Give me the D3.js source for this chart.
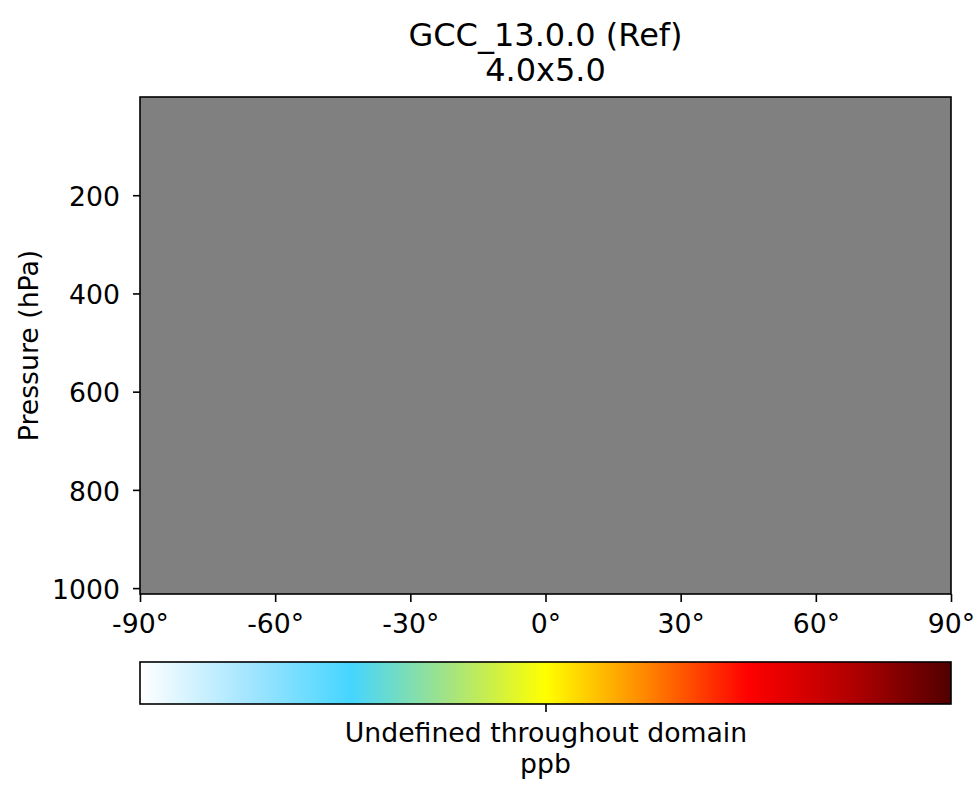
<!DOCTYPE html>
<html>
<head>
<meta charset="utf-8">
<script src="https://cdn.jsdelivr.net/npm/d3@7"></script>
<style>
  html, body { margin: 0; padding: 0; background: #fff; }
  svg { display: block; font-family: "DejaVu Sans", sans-serif; }
</style>
</head>
<body>
<svg id="chart" width="976" height="785"></svg>
<script>
// Zonal-mean panel: latitude vs pressure, field undefined everywhere
const titleLines = ["GCC_13.0.0 (Ref)", "4.0x5.0"];
const latExtent = [-90, 90];
const pressureExtent = [0, 1012];
const latTicks = [-90, -60, -30, 0, 30, 60, 90];
const pressureTicks = [200, 400, 600, 800, 1000];
const undefinedColor = "#808080";
const cbarStops = [0, 0.13, 0.26, 0.38, 0.5, 0.62, 0.75, 0.88, 1];
const cbarColors = ["#ffffff", "#a6e6ff", "#45d5ff", "#a3e383", "#ffff00", "#ff8a00", "#ff0000", "#b00000", "#500000"];
const cbarTickLabels = ["Undefined throughout domain"];
const unitsLabel = "ppb";
const yAxisLabel = "Pressure (hPa)";

const svg = d3.select("#chart");
const plot = { left: 140, right: 951, top: 97, bottom: 594 };
const cbar = { left: 140, right: 951, top: 662, bottom: 704 };

const x = d3.scaleLinear().domain(latExtent).range([plot.left, plot.right]);
const y = d3.scaleLinear().domain(pressureExtent).range([plot.top, plot.bottom]);

// Field area (all cells masked -> NaN colour)
svg.append("rect")
  .attr("x", x(latExtent[0])).attr("y", y(pressureExtent[0]))
  .attr("width", x(latExtent[1]) - x(latExtent[0]))
  .attr("height", y(pressureExtent[1]) - y(pressureExtent[0]))
  .attr("fill", undefinedColor);

const tickFont = "26.7px";

function styleAxis(g) {
  g.select(".domain").remove();
  g.selectAll("line").attr("stroke", "#000").attr("stroke-width", 1.6);
  g.selectAll("text").attr("font-size", tickFont).attr("fill", "#000")
    .attr("font-family", "DejaVu Sans");
}

// X axis
const xAxis = svg.append("g")
  .attr("transform", `translate(0,${plot.bottom})`)
  .call(d3.axisBottom(x).tickValues(latTicks).tickSize(8).tickPadding(12)
    .tickFormat(d => `${d}°`));
styleAxis(xAxis);

// Y axis
const yAxis = svg.append("g")
  .attr("transform", `translate(${plot.left},0)`)
  .call(d3.axisLeft(y).tickValues(pressureTicks).tickSize(7).tickPadding(13)
    .tickFormat(d3.format("d")));
styleAxis(yAxis);
yAxis.selectAll("text").attr("dy", "0.38em");

// Frame
svg.append("rect")
  .attr("x", plot.left).attr("y", plot.top)
  .attr("width", plot.right - plot.left).attr("height", plot.bottom - plot.top)
  .attr("fill", "none").attr("stroke", "#000").attr("stroke-width", 1.6);

// Y label
svg.append("text")
  .attr("transform", `translate(38,${(plot.top + plot.bottom) / 2}) rotate(-90)`)
  .attr("text-anchor", "middle")
  .attr("font-size", tickFont)
  .text(yAxisLabel);

// Title (two lines)
svg.append("text")
  .attr("x", (plot.left + plot.right) / 2).attr("y", 46)
  .attr("text-anchor", "middle").attr("font-size", "32px")
  .text(titleLines[0]);
svg.append("text")
  .attr("x", (plot.left + plot.right) / 2).attr("y", 81)
  .attr("text-anchor", "middle").attr("font-size", "32px")
  .text(titleLines[1]);

// Colour bar
const defs = svg.append("defs");
const grad = defs.append("linearGradient").attr("id", "cbarGrad")
  .attr("x1", "0%").attr("x2", "100%").attr("y1", "0%").attr("y2", "0%");
grad.selectAll("stop").data(cbarStops).join("stop")
  .attr("offset", d => `${d * 100}%`)
  .attr("stop-color", (d, i) => cbarColors[i]);

svg.append("rect")
  .attr("x", cbar.left).attr("y", cbar.top)
  .attr("width", cbar.right - cbar.left).attr("height", cbar.bottom - cbar.top)
  .attr("fill", "url(#cbarGrad)")
  .attr("stroke", "#000").attr("stroke-width", 1.6);

const cx = d3.scalePoint().domain(cbarTickLabels).range([cbar.left, cbar.right]).padding(0.5);
const cAxis = svg.append("g")
  .attr("transform", `translate(0,${cbar.bottom})`)
  .call(d3.axisBottom(cx).tickSize(8).tickPadding(11));
styleAxis(cAxis);

svg.append("text")
  .attr("x", (cbar.left + cbar.right) / 2).attr("y", 773)
  .attr("text-anchor", "middle").attr("font-size", tickFont)
  .text(unitsLabel);
</script>
</body>
</html>
